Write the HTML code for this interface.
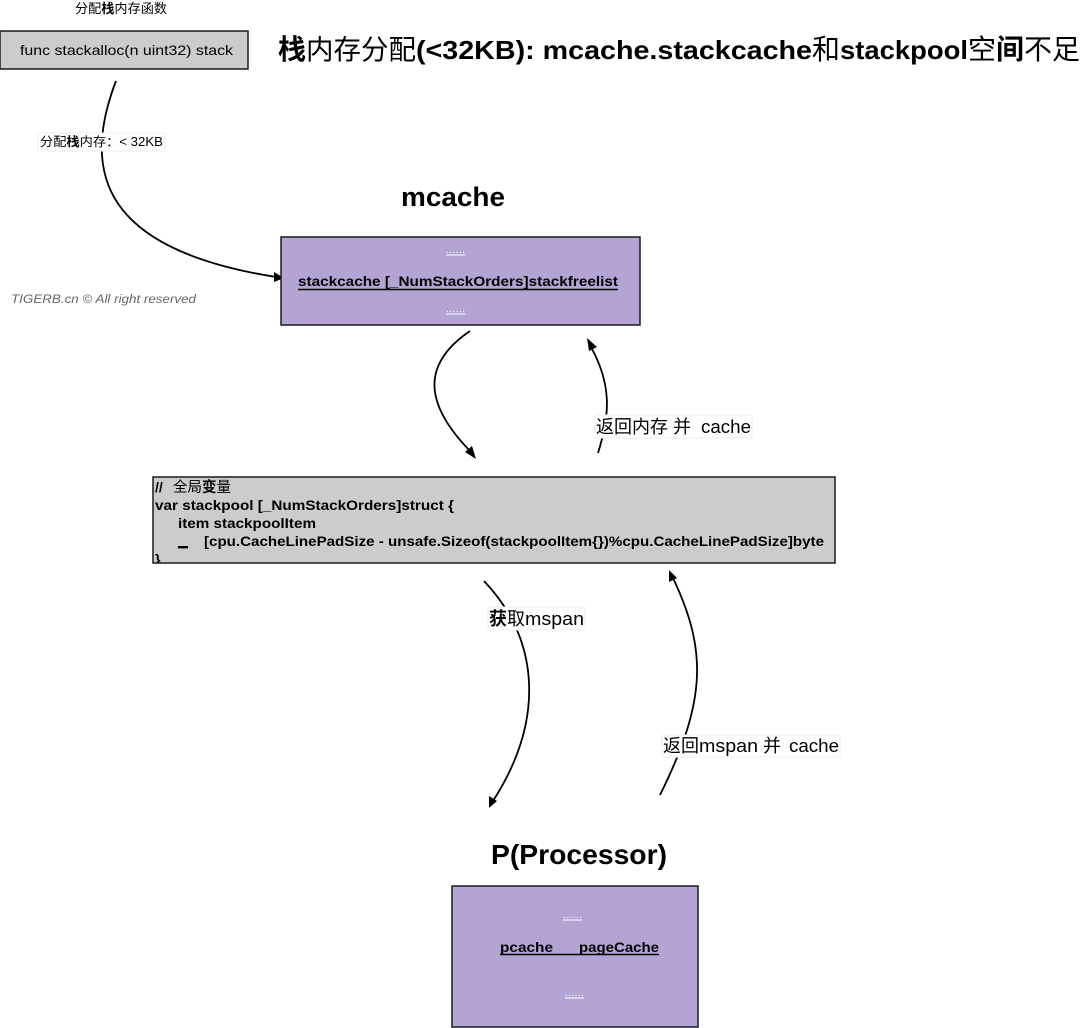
<!DOCTYPE html>
<html>
<head>
<meta charset="utf-8">
<style>
html,body{margin:0;padding:0;background:#fff;width:1080px;height:1028px;overflow:hidden}
svg{display:block}
text{font-family:"Liberation Sans","Noto Sans CJK SC",sans-serif;fill:#000}
.b{font-weight:bold}
.c{fill:none;stroke:#000;stroke-width:1.8}
.l{fill:#fff;stroke:#eee;stroke-width:1}
.box{stroke:#1a1a1a;stroke-width:1.5}
</style>
</head>
<body>
<svg width="1080" height="1028" viewBox="0 0 1080 1028" xmlns="http://www.w3.org/2000/svg">
<defs><clipPath id="cp"><rect x="153" y="477" width="682" height="86"/></clipPath></defs>

<!-- top label -->
<text x="75" y="13" font-size="13" textLength="92" lengthAdjust="spacingAndGlyphs">分配<tspan class="b">栈</tspan>内存函数</text>

<!-- func box -->
<rect class="box" x="0" y="31" width="248" height="38" fill="#cccccc"/>
<text x="20" y="55" font-size="14" textLength="213" lengthAdjust="spacingAndGlyphs">func stackalloc(n uint32) stack</text>

<!-- title -->
<text x="278" y="59" font-size="28" class="b">栈</text>
<text x="306" y="59" font-size="27.5">内存分配</text>
<text x="416" y="59" font-size="26" class="b" textLength="396" lengthAdjust="spacingAndGlyphs">(&lt;32KB): mcache.stackcache</text>
<text x="812" y="59" font-size="28">和</text>
<text x="840" y="59" font-size="26" class="b" textLength="128" lengthAdjust="spacingAndGlyphs">stackpool</text>
<text x="968" y="59" font-size="28">空<tspan class="b">间</tspan>不足</text>

<!-- curve 1 -->
<path class="c" d="M116 81 C80 175 105 250 276 277"/>
<polygon points="284,278 274,272 274,282" fill="#000"/>
<rect class="l" x="38" y="133" width="127" height="18" rx="2"/>
<text x="40" y="146" font-size="12.5" textLength="123" lengthAdjust="spacingAndGlyphs">分配<tspan class="b">栈</tspan>内存：&lt; 32KB</text>

<!-- mcache -->
<text x="401" y="206" font-size="27" class="b" textLength="104" lengthAdjust="spacingAndGlyphs">mcache</text>
<rect class="box" x="281" y="237" width="359" height="88" fill="#b3a4d4"/>
<text x="446" y="253" font-size="10" style="fill:#fff" textLength="19">......</text>
<line x1="446" y1="255" x2="465" y2="255" stroke="#fff" stroke-width="1"/>
<text x="298" y="286" font-size="14" class="b" textLength="320" lengthAdjust="spacingAndGlyphs">stackcache [_NumStackOrders]stackfreelist</text>
<line x1="298" y1="289.5" x2="618" y2="289.5" stroke="#000" stroke-width="1.4"/>
<text x="446" y="312" font-size="10" style="fill:#fff" textLength="19">......</text>
<line x1="446" y1="314" x2="465" y2="314" stroke="#fff" stroke-width="1"/>

<!-- watermark -->
<text x="11" y="303" font-size="12" font-style="italic" style="fill:#666" textLength="185" lengthAdjust="spacingAndGlyphs">TIGERB.cn © All right reserved</text>

<!-- curves 2, 3 -->
<path class="c" d="M470 331 C420 365 425 405 471 452"/>
<polygon points="476,459 465,452 472,446" fill="#000"/>
<path class="c" d="M598 453 C610 415 612 385 591 347"/>
<polygon points="587,338 589,351 597,347" fill="#000"/>
<rect class="l" x="595" y="415" width="157" height="23" rx="2"/>
<text x="596" y="433" font-size="18">返回内存 并</text>
<text x="701" y="433" font-size="18" textLength="50" lengthAdjust="spacingAndGlyphs">cache</text>

<!-- stackpool -->
<rect class="box" x="153" y="477" width="682" height="86" fill="#cccccc"/>
<g clip-path="url(#cp)" font-size="14">
<text x="155" y="492" font-size="14" class="b">//</text>
<text x="173" y="492" font-size="14.5">全局<tspan class="b">变</tspan>量</text>
<text x="155" y="510" font-size="14" class="b" textLength="299" lengthAdjust="spacingAndGlyphs">var stackpool [_NumStackOrders]struct {</text>
<text x="178" y="528" font-size="14" class="b" textLength="138" lengthAdjust="spacingAndGlyphs">item stackpoolItem</text>
<rect x="178" y="546" width="10" height="2.4" fill="#000"/>
<text x="204" y="546" font-size="14" class="b" textLength="620" lengthAdjust="spacingAndGlyphs">[cpu.CacheLinePadSize - unsafe.Sizeof(stackpoolItem{})%cpu.CacheLinePadSize]byte</text>
<text x="155" y="564" font-size="14" class="b">}</text>
</g>

<!-- curves 4, 5 -->
<path class="c" d="M484 581 C540 640 545 720 493 801"/>
<polygon points="489,808 489,796 497,801" fill="#000"/>
<rect class="l" x="488" y="607" width="97" height="23" rx="2"/>
<text x="489" y="625" font-size="18"><tspan class="b">获</tspan>取</text>
<text x="525" y="625" font-size="18" textLength="59" lengthAdjust="spacingAndGlyphs">mspan</text>

<path class="c" d="M660 795 C707 700 707 650 673 578"/>
<polygon points="669,570 669,582 677,578" fill="#000"/>
<rect class="l" x="662" y="735" width="178" height="22" rx="2"/>
<text x="663" y="752" font-size="18">返回</text>
<text x="699" y="752" font-size="18" textLength="59" lengthAdjust="spacingAndGlyphs">mspan</text>
<text x="763" y="752" font-size="18">并</text>
<text x="789" y="752" font-size="18" textLength="50" lengthAdjust="spacingAndGlyphs">cache</text>

<!-- P -->
<text x="491" y="864" font-size="28" class="b" textLength="176" lengthAdjust="spacingAndGlyphs">P(Processor)</text>
<rect class="box" x="452" y="886" width="246" height="141" fill="#b3a4d4"/>
<text x="563" y="918" font-size="10" style="fill:#fff" textLength="19">......</text>
<line x1="563" y1="920" x2="582" y2="920" stroke="#fff" stroke-width="1"/>
<text x="500" y="952" font-size="14" class="b" textLength="53" lengthAdjust="spacingAndGlyphs">pcache</text>
<text x="579" y="952" font-size="14" class="b" textLength="80" lengthAdjust="spacingAndGlyphs">pageCache</text>
<line x1="500" y1="954.5" x2="659" y2="954.5" stroke="#000" stroke-width="1.4"/>
<text x="565" y="996" font-size="10" style="fill:#fff" textLength="19">......</text>
<line x1="565" y1="998" x2="584" y2="998" stroke="#fff" stroke-width="1"/>
</svg>
</body>
</html>
